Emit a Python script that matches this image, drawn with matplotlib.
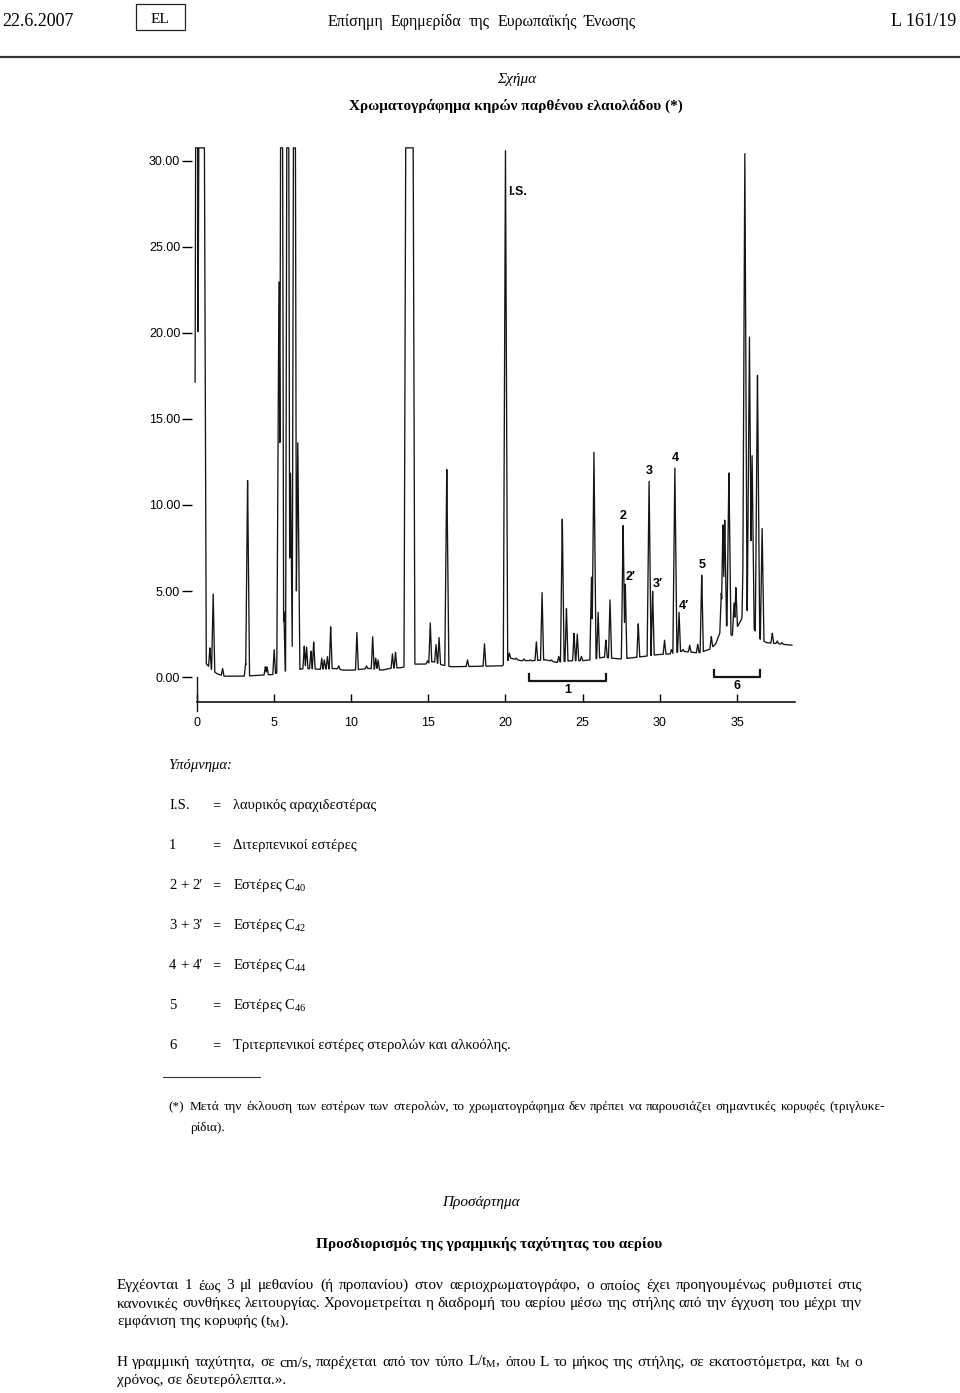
import numpy as np
import matplotlib
matplotlib.use("Agg")
import matplotlib.pyplot as plt

plt.rcParams['font.family'] = ['Liberation Serif', 'DejaVu Serif']
plt.rcParams['mathtext.fontset'] = 'custom'
plt.rcParams['mathtext.rm'] = 'Liberation Serif'
plt.rcParams['mathtext.it'] = 'Liberation Serif:italic'
plt.rcParams['mathtext.default'] = 'rm'

# chromatogram: retention time (min) and apex level of each peak
peak_t = [0.0, 0.32, 0.86, 1.07, 1.68, 3.17, 3.3, 4.45, 4.56, 5.02,
          5.33, 5.5, 5.65, 5.9, 6.08, 6.25, 6.33, 6.55, 6.97, 7.12,
          7.4, 7.58, 8.1, 8.27, 8.47, 8.68, 9.2, 10.38, 11.0, 11.4,
          11.6, 11.75, 12.68, 12.88, 13.78, 14.95, 15.13, 15.5, 15.7, 16.2,
          17.54, 18.64, 20.0, 20.25, 20.7, 21.2, 21.6, 22.0, 22.37, 22.97,
          23.45, 23.68, 23.95, 24.44, 24.65, 24.92, 25.57, 25.73, 26.0, 26.5,
          26.77, 27.62, 27.76, 28.6, 29.3, 29.53, 30.3, 30.75, 30.97, 31.24,
          31.5, 31.93, 32.45, 32.71, 33.33, 33.98, 34.08, 34.2, 34.47, 34.8,
          34.92, 35.43, 35.5, 35.8, 35.97, 36.32, 36.62, 37.28, 37.6, 37.9]
peak_h = [60, 80, 1.7, 4.9, 0.5, 0.8, 11.5, 0.6, 0.6, 1.6,
          23.2, 60, 3.8, 60, 11.9, 3.1, 60, 13.7, 1.8, 1.75,
          1.5, 2.05, 1.1, 1.0, 1.2, 2.95, 0.65, 2.6, 0.65, 2.35,
          1.1, 1.0, 1.35, 1.45, 100, 0.95, 3.15, 1.9, 2.3, 12.2,
          1.0, 1.95, 30.6, 1.4, 1.1, 1.05, 1.0, 2.05, 4.95, 1.0,
          1.2, 9.3, 4.0, 2.55, 2.5, 1.2, 5.85, 13.1, 3.8, 2.15,
          4.5, 8.85, 5.45, 3.1, 11.45, 5.05, 2.15, 1.6, 12.2, 3.8,
          1.6, 1.85, 1.9, 6.0, 2.35, 4.9, 8.9, 9.2, 11.9, 4.3,
          5.2, 8.6, 30.7, 19.8, 13.0, 17.7, 8.7, 2.55, 2.1, 2.0]
# the two broad, flat-topped (off scale) peaks: time -> half base width
broad_peaks = {0.32: 0.3, 13.78: 0.35}

# drifting baseline under the peaks
base_t = [-0.1, 0.5, 0.6, 0.9, 1.3, 1.8, 3.0, 4.0, 5.0, 5.3, 6.7, 7.0, 8.0,
          9.0, 9.5, 10.2, 10.6, 11.2, 12.0, 12.5, 13.3, 13.5, 14.1, 14.8,
          15.3, 15.9, 16.5, 19.8, 20.3, 21.0, 21.8, 22.6, 23.3, 24.2, 25.0,
          25.5, 26.3, 27.4, 28.0, 29.0, 29.8, 30.7, 31.4, 32.5, 33.2, 33.6,
          33.9, 34.35, 34.65, 35.2, 35.6, 36.1, 36.5, 36.9, 38.55]
base_s = [0.0, 0.0, 0.8, 0.5, 0.2, 0.05, 0.05, 0.1, 0.15, 0.3, 0.45, 0.5, 0.45,
          0.5, 0.4, 0.4, 0.45, 0.5, 0.4, 0.5, 0.55, 0.6, 0.75, 0.75,
          0.9, 0.7, 0.6, 0.65, 1.1, 0.95, 0.95, 1.0, 0.85, 0.95, 0.95,
          1.0, 1.15, 1.05, 1.1, 1.2, 1.3, 1.35, 1.5, 1.4, 1.6, 1.9,
          2.6, 3.0, 2.4, 3.2, 4.0, 2.8, 2.2, 2.0, 1.85]

peak_names = ['2', '2′', '3', '3′', '4', '4′', '5']
name_t = [27.62, 27.76, 29.3, 29.53, 30.97, 31.24, 32.71]

group_names = ['1', '6']
group_start = [21.53, 33.48]
group_end = [26.54, 36.46]

x_ticks = [0, 5, 10, 15, 20, 25, 30, 35]
y_ticks = [0, 5, 10, 15, 20, 25, 30]

legend_keys = ['I.S.', '1', '2 + 2′', '3 + 3′', '4 + 4′', '5', '6']
legend_text = ['λαυρικός αραχιδεστέρας', 'Διτερπενικοί εστέρες',
               'Εστέρες C$_{40}$', 'Εστέρες C$_{42}$', 'Εστέρες C$_{44}$',
               'Εστέρες C$_{46}$', 'Τριτερπενικοί εστέρες στερολών και αλκοόλης.']

TOP = 30.75

W, H = 960, 1393
fig = plt.figure(figsize=(9.6, 13.93), dpi=100)
renderer = fig.canvas.get_renderer()


def put(s, x, y, ha='left', **kw):
    return fig.text(x / W, 1 - y / H, s, ha=ha, va='baseline', **kw)


def spread(s, x0, x1, y, **kw):
    # justified line: words stretched between x0 and x1
    words = s.split()
    parts = [put(w, x0, y, **kw) for w in words]
    widths = [p.get_window_extent(renderer).width for p in parts]
    gap = (x1 - x0 - sum(widths)) / max(len(words) - 1, 1)
    x = x0
    for p, w in zip(parts, widths):
        p.set_x(x / W)
        x += w + gap


# ---- page header
put('22.6.2007', 2, 26, fontsize=13)
put('EL', 160, 23, ha='center', fontsize=11)
fig.add_artist(plt.Rectangle((136 / W, 1 - 30 / H), 49 / W, 26 / H, fill=False,
                             lw=0.9, color='#222', transform=fig.transFigure))
spread('Επίσημη Εφημερίδα της Ευρωπαϊκής Ένωσης', 328, 636, 26, fontsize=11.5)
put('L 161/19', 956, 26, ha='right', fontsize=13)
fig.add_artist(plt.Line2D([0, 1], [1 - 57 / H] * 2, lw=1.6, color='#333',
                          transform=fig.transFigure))

put('Σχήμα', 517, 83, ha='center', fontsize=11, style='italic')
put('Χρωματογράφημα κηρών παρθένου ελαιολάδου (*)', 516, 110, ha='center',
    fontsize=11, weight='bold')

# ---- chromatogram
ax = fig.add_axes([192 / W, 1 - 702 / H, 603 / W, 555 / H])
ax.set_xlim(-0.3, 38.75)
ax.set_ylim(-1.45, 30.8)

pt = np.array(peak_t)
ph = np.array(peak_h, dtype=float)
pw = np.array([broad_peaks.get(t, 0.08 + 0.004 * min(h, 15)) for t, h in zip(peak_t, peak_h)])
t = np.linspace(base_t[0], base_t[-1], 9700)
base = np.interp(t, base_t, base_s)
amp = ph - np.interp(pt, base_t, base_s)
tri = amp[:, None] * np.clip(1 - np.abs(t[None, :] - pt[:, None]) / pw[:, None], 0, None)
sig = np.minimum(base + tri.max(axis=0), TOP)
ax.plot(t, sig, color='#151515', lw=0.95)

ax.plot([0, 0], [-2.0, 0], color='#151515', lw=1.0, clip_on=False)

for s, a, b, yb in zip(group_names, group_start, group_end, [-0.25, 0.0]):
    ax.plot([a, a, b, b], [yb + 0.4, yb, yb, yb + 0.4], color='#151515', lw=1.6)
    ax.text((a + b) / 2, yb - 0.15, s, ha='center', va='top', fontsize=9,
            weight='bold', family=['Liberation Sans', 'DejaVu Sans'])

for s, tn in zip(peak_names, name_t):
    i = int(np.argmin(np.abs(pt - tn)))
    if '′' in s:
        ax.text(pt[i], ph[i] + 0.35, s, ha='left', va='center', fontsize=9,
                weight='bold', family=['Liberation Sans', 'DejaVu Sans'])
    else:
        ax.text(pt[i], ph[i] + 0.5, s, ha='center', va='center', fontsize=9,
                weight='bold', family=['Liberation Sans', 'DejaVu Sans'])
ax.text(20.8, 28.2, 'I.S.', ha='center', va='center', fontsize=9,
        weight='bold', family=['Liberation Sans', 'DejaVu Sans'])

for side in ['left', 'top', 'right']:
    ax.spines[side].set_visible(False)
ax.spines['bottom'].set_bounds(0, 38.75)
ax.spines['bottom'].set_linewidth(1.1)
ax.set_xticks(x_ticks)
ax.set_yticks(y_ticks)
ax.set_yticklabels(['%.2f' % v for v in y_ticks])
ax.tick_params(axis='x', direction='in', length=6, width=1.0, pad=11)
ax.tick_params(axis='y', direction='out', length=7, width=1.0, pad=1.5)
for lab in ax.get_xticklabels() + ax.get_yticklabels():
    lab.set_family(['Liberation Sans', 'DejaVu Sans'])
    lab.set_fontsize(9)

# ---- legend under the figure
put('Υπόμνημα:', 168, 769, fontsize=10.5, style='italic')
for k, (key, txt) in enumerate(zip(legend_keys, legend_text)):
    y = 809 + 40 * k
    if ' ' in key:
        spread(key, 169, 203, y, fontsize=10.5)
    else:
        put(key, 169, y, fontsize=10.5)
    put('=', 212, y, fontsize=10.5)
    put(txt, 233, y, fontsize=10.5)

fig.add_artist(plt.Line2D([163 / W, 260 / W], [1 - 1077 / H] * 2, lw=0.8, color='#333',
                          transform=fig.transFigure))
put('(*)', 168, 1110, fontsize=9.5)
spread('Μετά την έκλουση των εστέρων των στερολών, το χρωματογράφημα δεν πρέπει να '
       'παρουσιάζει σημαντικές κορυφές (τριγλυκε-', 190, 885, 1110, fontsize=9.5)
put('ρίδια).', 190, 1131, fontsize=9.5)

# ---- appendix text
put('Προσάρτημα', 481, 1206, ha='center', fontsize=11, style='italic')
put('Προσδιορισμός της γραμμικής ταχύτητας του αερίου', 489, 1248, ha='center',
    fontsize=11, weight='bold')
spread('Εγχέονται 1 έως 3 μl μεθανίου (ή προπανίου) στον αεριοχρωματογράφο, ο οποίος '
       'έχει προηγουμένως ρυθμιστεί στις', 117, 862, 1289, fontsize=11)
spread('κανονικές συνθήκες λειτουργίας. Χρονομετρείται η διαδρομή του αερίου μέσω της '
       'στήλης από την έγχυση του μέχρι την', 117, 862, 1307, fontsize=11)
put('εμφάνιση της κορυφής (t$_{M}$).', 117, 1325, fontsize=11)
spread('Η γραμμική ταχύτητα, σε cm/s, παρέχεται από τον τύπο L/t$_{M}$, όπου L το μήκος '
       'της στήλης, σε εκατοστόμετρα, και t$_{M}$ ο', 117, 862, 1366, fontsize=11)
put('χρόνος, σε δευτερόλεπτα.».', 117, 1384, fontsize=11)

fig.savefig('out.png', dpi=100)
